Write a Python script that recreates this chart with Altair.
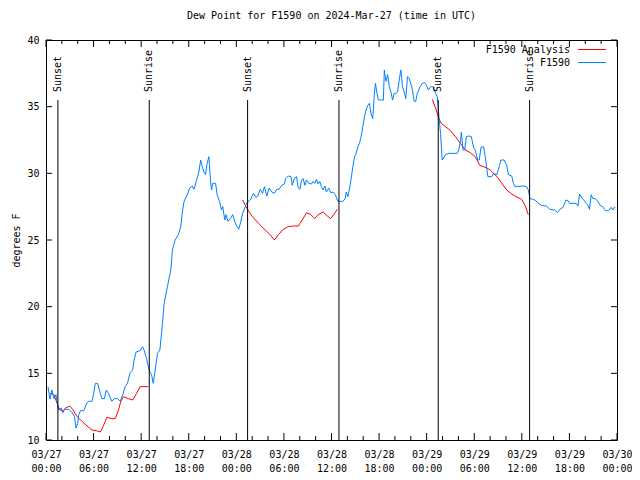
import json
import altair as alt
import pandas as pd

# ---- data (hours after 2024-03-27 00:00 UTC, deg F) ----
blue_hours = [0.25, 0.5, 0.75, 1.0, 1.25, 1.5, 1.63, 1.92, 2.13, 2.34, 2.88, 3.29, 3.59, 3.79, 4.0, 4.13,
              4.35, 4.76, 5.17, 5.38, 5.8, 6.01, 6.22, 6.51, 6.85, 7.05, 7.35, 7.6, 7.89, 8.3, 8.6, 9.02,
              9.35, 9.68, 9.98, 10.27, 10.61, 10.93, 11.11, 11.36, 11.86, 12.18, 12.36, 12.68, 13.02,
              13.31, 13.52, 13.77, 14.06, 14.36, 14.69, 14.9, 15.31, 15.74, 15.94, 16.28, 16.69, 16.99,
              17.19, 17.41, 17.82, 18.12, 18.44, 18.66, 18.95, 19.28, 19.5, 19.7, 19.91, 20.12, 20.32,
              20.54, 20.75, 20.87, 21.04, 21.38, 21.58, 21.88, 22.13, 22.29, 22.54, 22.7, 22.95, 23.25,
              23.54, 23.88, 24.29, 24.51, 24.79, 25.13, 25.33, 25.76, 26.17, 26.46, 26.71, 27.01, 27.3,
              27.55, 27.84, 28.14, 28.46, 28.8, 29.09, 29.39, 29.71, 30.05, 30.22, 30.55, 30.89, 31.05,
              31.3, 31.59, 31.81, 32.02, 32.22, 32.43, 32.64, 32.85, 33.15, 33.47, 33.68, 33.9, 34.1,
              34.31, 34.52, 34.72, 34.94, 35.15, 35.35, 35.65, 35.9, 36.19, 36.48, 36.81, 37.15, 37.44,
              37.73, 37.85, 38.07, 38.28, 38.48, 38.69, 38.91, 39.11, 39.32, 39.53, 39.73, 39.95, 40.16,
              40.36, 40.57, 40.78, 40.98, 41.2, 41.41, 41.54, 41.74, 41.91, 42.54, 42.66, 42.86, 43.08,
              43.29, 43.49, 43.7, 43.91, 44.11, 44.33, 44.54, 44.74, 44.95, 45.17, 45.37, 45.58, 45.79,
              45.99, 46.21, 46.42, 46.62, 46.83, 47.17, 47.46, 47.75, 47.99, 48.21, 48.5, 48.84, 49.12,
              49.34, 49.55, 49.75, 49.96, 50.38, 50.8, 51.84, 52.05, 52.25, 52.38, 52.59, 52.8, 53.0,
              53.3, 53.63, 53.93, 54.13, 54.43, 54.63, 54.85, 55.18, 55.39, 55.6, 55.72, 56.22, 56.44,
              56.85, 57.19, 57.35, 57.77, 58.1, 58.31, 58.73, 58.94, 59.14, 60.19, 60.61, 60.82, 61.02,
              61.44, 61.77, 62.07, 62.48, 63.11, 63.52, 64.15, 64.49, 64.78, 65.2, 65.4, 65.53, 65.83,
              66.03, 66.87, 67.08, 67.28, 67.49, 67.7, 67.91, 68.12, 68.33, 68.53, 68.75, 68.96, 69.28,
              69.58, 69.87, 70.21, 70.54, 70.96, 71.25, 71.46, 71.66, 71.79]
blue_values = [14.0, 13.07, 13.75, 13.1, 13.4, 12.5, 12.25, 12.4, 12.05, 12.3, 12.3, 12.05, 11.75, 10.9,
               11.25, 11.9, 12.2, 12.2, 12.8, 12.9, 12.9, 13.5, 14.25, 14.25, 13.5, 13.1, 13.1, 13.75,
               13.5, 12.9, 13.1, 13.1, 12.9, 13.4, 14.0, 14.25, 15.05, 15.25, 16.0, 16.6, 16.7, 17.0,
               16.75, 16.1, 15.2, 14.9, 14.25, 15.25, 16.5, 16.75, 18.75, 20.25, 21.5, 22.75, 24.25,
               25.0, 25.4, 26.0, 27.1, 27.9, 28.4, 28.9, 29.05, 28.8, 29.4, 30.1, 31.0, 30.5, 30.1,
               29.9, 30.75, 31.25, 29.4, 28.75, 29.25, 29.25, 28.4, 27.9, 27.25, 27.5, 26.5, 26.9, 26.4,
               26.6, 26.9, 26.25, 25.8, 26.25, 27.0, 27.5, 27.8, 28.0, 28.5, 28.2, 28.3, 28.8, 28.5,
               29.0, 28.3, 28.9, 28.6, 28.5, 28.8, 28.8, 29.1, 29.2, 29.6, 29.8, 29.75, 29.1, 29.6,
               29.75, 28.9, 28.8, 29.5, 29.6, 29.1, 29.5, 29.25, 29.2, 29.4, 29.25, 29.55, 29.2, 29.4,
               29.0, 28.75, 29.05, 28.6, 28.9, 28.55, 28.6, 28.4, 27.9, 27.9, 27.9, 28.1, 28.6, 28.25,
               28.9, 29.6, 30.5, 31.25, 31.5, 32.0, 32.25, 32.75, 33.5, 34.25, 34.75, 35.1, 35.25, 34.5,
               34.1, 36.0, 36.75, 36.0, 35.5, 35.5, 37.75, 36.9, 37.4, 36.5, 36.1, 35.5, 36.0, 36.0,
               36.1, 37.0, 37.75, 36.5, 36.1, 35.6, 37.25, 37.1, 36.75, 36.25, 35.4, 35.4, 36.0, 36.5,
               36.75, 36.8, 36.6, 36.25, 36.5, 36.5, 36.0, 35.75, 34.25, 33.0, 31.0, 31.4, 31.5, 31.5,
               31.75, 32.4, 33.1, 31.75, 31.75, 32.75, 32.8, 32.75, 31.9, 31.75, 31.0, 31.0, 31.95,
               32.0, 31.25, 30.25, 29.75, 29.75, 30.0, 29.9, 30.6, 31.0, 31.0, 30.6, 29.9, 29.8, 29.25,
               29.0, 29.05, 29.0, 28.75, 28.1, 28.05, 27.95, 27.75, 27.6, 27.55, 27.3, 27.25, 27.05,
               27.3, 27.45, 27.75, 28.0, 27.95, 27.75, 27.75, 27.55, 28.45, 28.25, 28.05, 27.95, 27.75,
               27.6, 27.3, 28.4, 28.1, 28.1, 27.9, 27.6, 27.5, 27.2, 27.2, 27.45, 27.25, 27.45, 27.45]

red1_hours = [0.5, 1.0, 1.5, 1.75, 2.16, 2.46, 3.0, 3.42, 3.92, 4.55, 5.17, 5.8, 6.35, 6.85, 7.26, 7.68,
              8.3, 8.73, 9.14, 9.43, 9.77, 10.4, 10.93, 11.43, 11.86, 12.9]
red1_values = [13.5, 13.4, 12.6, 12.25, 12.2, 12.4, 12.55, 12.25, 11.75, 11.4, 11.05, 10.75, 10.7, 10.6,
               11.1, 11.7, 11.6, 11.6, 12.25, 12.9, 13.25, 13.1, 13.0, 13.5, 14.0, 14.0]
red2_hours = [24.79, 25.13, 25.46, 25.96, 26.8, 27.64, 28.26, 28.8, 29.3, 29.93, 30.55, 31.18, 31.81,
              32.31, 32.85, 33.4, 33.9, 34.31, 34.94, 35.48, 35.9, 36.4, 36.73]
red2_values = [28.0, 27.6, 27.25, 26.8, 26.25, 25.75, 25.4, 25.0, 25.4, 25.8, 26.0, 26.05, 26.05, 26.5,
               27.05, 26.9, 26.6, 26.9, 27.1, 26.8, 26.6, 27.0, 27.3]
red3_hours = [48.71, 49.12, 49.55, 49.84, 50.38, 51.0, 51.63, 52.25, 52.88, 53.5, 54.13, 54.68, 55.18,
              55.6, 56.01, 56.44, 56.94, 57.48, 58.1, 58.73, 59.27, 59.98, 60.4, 60.82]
red3_values = [35.55, 34.9, 34.1, 33.75, 33.5, 33.2, 32.75, 32.25, 31.75, 31.55, 31.25, 30.6, 30.5, 30.4,
               30.25, 30.0, 29.7, 29.25, 28.75, 28.45, 28.25, 28.05, 27.6, 26.9]

sun_hours = [1.50, 13.02, 25.42, 36.94, 49.46, 60.98]
sun_labels = ["Sunset", "Sunrise", "Sunset", "Sunrise", "Sunset", "Sunrise"]

x_major = list(range(0, 73, 6))
x_minor = [h for h in range(0, 73, 2) if h % 6]
y_ticks = [10, 15, 20, 25, 30, 35, 40]
tick_dates = ["03/27", "03/27", "03/27", "03/27", "03/28", "03/28", "03/28", "03/28",
              "03/29", "03/29", "03/29", "03/29", "03/30"]
tick_times = ["00:00", "06:00", "12:00", "18:00", "00:00", "06:00", "12:00", "18:00",
              "00:00", "06:00", "12:00", "18:00", "00:00"]
legend_labels = ["F1590 Analysis", "F1590"]

# ---- tables ----
W, H = 571, 400
FONT = "DejaVu Sans Mono"
RED, BLUE = "#ff0000", "#0080ff"

blue_df = pd.DataFrame({"h": blue_hours, "v": blue_values})
red_df = pd.concat([
    pd.DataFrame({"h": red1_hours, "v": red1_values, "seg": 1}),
    pd.DataFrame({"h": red2_hours, "v": red2_values, "seg": 2}),
    pd.DataFrame({"h": red3_hours, "v": red3_values, "seg": 3}),
])
sun_df = pd.DataFrame({"h": sun_hours, "label": sun_labels})
xmaj_df = pd.DataFrame({"h": x_major})
xmin_df = pd.DataFrame({"h": x_minor})
ytk_df = pd.DataFrame({"v": y_ticks})

xscale = alt.Scale(domain=[0, 72], nice=False, zero=False)
yscale = alt.Scale(domain=[10, 40], nice=False, zero=False)

label_expr = (f"[{json.dumps(tick_dates)}[round(datum.value/6)], "
              f"{json.dumps(tick_times)}[round(datum.value/6)]]")

X = alt.X("h:Q", scale=xscale,
          axis=alt.Axis(values=x_major, labelExpr=label_expr, title=None, labelPadding=9,
                        labelLineHeight=14, labelFlush=False, labelOverlap=False))
Y = alt.Y("v:Q", scale=yscale,
          axis=alt.Axis(values=y_ticks, title="degrees F", titlePadding=5, labelPadding=7))

red_line = alt.Chart(red_df).mark_line(color=RED, strokeWidth=1).encode(
    x=X, y=Y, detail="seg:N")
blue_line = alt.Chart(blue_df).mark_line(color=BLUE, strokeWidth=1, interpolate="linear").encode(
    x=alt.X("h:Q", scale=xscale), y=alt.Y("v:Q", scale=yscale))

sun_rules = alt.Chart(sun_df).mark_rule(color="black", strokeWidth=1).encode(
    x=alt.X("h:Q", scale=xscale), y=alt.value(60), y2=alt.value(H))
sun_text = alt.Chart(sun_df).mark_text(angle=270, align="left", baseline="middle",
                                       font=FONT, fontSize=10, color="black").encode(
    x=alt.X("h:Q", scale=xscale), y=alt.value(52), text="label:N")

def xticks(df, size):
    top = alt.Chart(df).mark_rule(color="black", strokeWidth=1).encode(
        x=alt.X("h:Q", scale=xscale), y=alt.value(0), y2=alt.value(size))
    bot = alt.Chart(df).mark_rule(color="black", strokeWidth=1).encode(
        x=alt.X("h:Q", scale=xscale), y=alt.value(H - size), y2=alt.value(H))
    return top + bot

ytk_left = alt.Chart(ytk_df).mark_rule(color="black", strokeWidth=1).encode(
    y=alt.Y("v:Q", scale=yscale), x=alt.value(0), x2=alt.value(6))
ytk_right = alt.Chart(ytk_df).mark_rule(color="black", strokeWidth=1).encode(
    y=alt.Y("v:Q", scale=yscale), x=alt.value(W - 6), x2=alt.value(W))

LEG_X = W - 47
leg_df = pd.DataFrame({"label": legend_labels})
leg_text1 = alt.Chart(leg_df.iloc[[0]]).mark_text(align="right", baseline="middle", font=FONT,
                                                  fontSize=10, color="black").encode(
    x=alt.value(LEG_X), y=alt.value(10), text="label:N")
leg_text2 = alt.Chart(leg_df.iloc[[1]]).mark_text(align="right", baseline="middle", font=FONT,
                                                  fontSize=10, color="black").encode(
    x=alt.value(LEG_X), y=alt.value(22.5), text="label:N")
leg_line1 = alt.Chart(leg_df.iloc[[0]]).mark_rule(color=RED, strokeWidth=1).encode(
    x=alt.value(LEG_X + 8), x2=alt.value(LEG_X + 36), y=alt.value(9.5))
leg_line2 = alt.Chart(leg_df.iloc[[1]]).mark_rule(color=BLUE, strokeWidth=1).encode(
    x=alt.value(LEG_X + 8), x2=alt.value(LEG_X + 36), y=alt.value(22.5))

chart = alt.layer(
    red_line, blue_line, sun_rules, sun_text,
    xticks(xmaj_df, 7), xticks(xmin_df, 4), ytk_left, ytk_right,
    leg_text1, leg_text2, leg_line1, leg_line2,
).properties(
    width=W, height=H,
    title=alt.TitleParams("Dew Point for F1590 on 2024-Mar-27 (time in UTC)", font=FONT,
                          fontSize=10, fontWeight="normal", color="black", anchor="middle",
                          offset=14),
    autosize=alt.AutoSizeParams(type="none"),
    padding={"left": 38, "top": 32, "right": 15, "bottom": 32},
    background="white",
).configure_view(stroke="black", strokeWidth=1).configure_axis(
    labelFont=FONT, labelFontSize=10, labelColor="black", titleFont=FONT, titleFontSize=10,
    titleFontWeight="normal", titleColor="black", ticks=False, domain=False, grid=False,
)

chart.save("out.html", embed_options={"renderer": "svg", "actions": False})
